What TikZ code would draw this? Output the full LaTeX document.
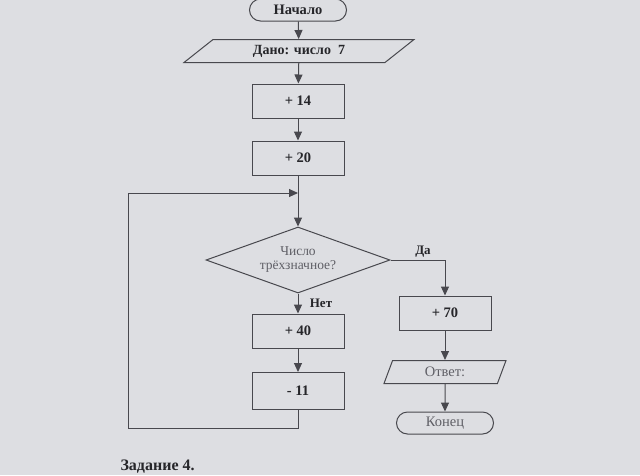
\documentclass[tikz,border=0pt]{standalone}
\usepackage{fontspec}
\setmainfont{Liberation Serif}
\usetikzlibrary{shapes.geometric,arrows.meta}
\definecolor{paper}{RGB}{221,222,226}
\definecolor{ink}{RGB}{38,38,42}
\definecolor{pale}{RGB}{95,95,102}
\definecolor{edge}{RGB}{72,72,78}

\begin{document}
\begin{tikzpicture}[
  x=1pt, y=-1pt,
  blk/.style={draw=edge, line width=1pt, minimum width=92pt, minimum height=34pt, inner sep=2pt, text=ink, font=\fontsize{14.5}{16}\selectfont\bfseries},
  term/.style={draw=edge, line width=1pt, rounded corners=11pt, minimum width=97pt, minimum height=22pt, inner sep=1pt, font=\fontsize{14.5}{16}\selectfont},
  io/.style={draw=edge, line width=1pt, trapezium, trapezium stretches body, inner sep=1pt, font=\fontsize{14.5}{16}\selectfont},
  ask/.style={draw=edge, line width=1pt, diamond, aspect=2.8, minimum width=184pt, minimum height=66pt, inner sep=0pt, align=center, text=pale, font=\fontsize{13.5}{14}\selectfont},
  lab/.style={text=ink, font=\fontsize{13}{15}\selectfont\bfseries},
  arr/.style={-{Triangle[length=9pt,width=8pt]}, line width=1pt, draw=edge}
]
\clip (0,0) rectangle (640,475);
\fill[paper] (0,0) rectangle (640,475);
% main column
\node[term, text=ink, font=\fontsize{14.5}{16}\selectfont\bfseries] (start) at (298,10) {Начало};
\node[io, trapezium left angle=26, trapezium right angle=154, minimum width=230pt, minimum height=23pt, text=ink, font=\fontsize{14}{16}\selectfont\bfseries] (given) at (299,51) {Дано: число\ \ 7};
\node[blk] (add14) at (298,101) {+ 14};
\node[blk] (add20) at (298,158) {+ 20};
\node[ask] (check) at (298,260) {Число\\трёхзначное?};
\node[blk] (add40) at (298,331) {+ 40};
\node[blk, minimum height=37pt] (sub11) at (298,391) {- 11};
% right column
\node[blk] (add70) at (445,313) {+ 70};
\node[io, trapezium left angle=54, trapezium right angle=126, minimum width=122pt, minimum height=23pt, text=pale] (answer) at (445,372) {Ответ:};
\node[term, text=pale] (finish) at (445,423) {Конец};
\node[lab] (yes) at (423,252) {Да};
\node[lab] (no) at (321,303) {Нет};
\node[text=ink, font=\fontsize{16}{18}\selectfont\bfseries, anchor=west] (task) at (117,467) {Задание 4.};
% connectors
\coordinate (merge) at (298,193);
\coordinate (loopturn) at (128,193);
\draw[arr] (start) -- (given);
\draw[arr] (given) -- (add14);
\draw[arr] (add14) -- (add20);
\draw[arr] (add20) -- (check);
\draw[arr] (check) -- (add40);
\draw[arr] (add40) -- (sub11);
\draw[arr] (sub11.south) -- ++(0,18) -| (loopturn) -- (merge);
\draw[arr] (check.east) -| (add70);
\draw[arr] (add70) -- (answer);
\draw[arr] (answer) -- (finish);
\end{tikzpicture}
\end{document}
